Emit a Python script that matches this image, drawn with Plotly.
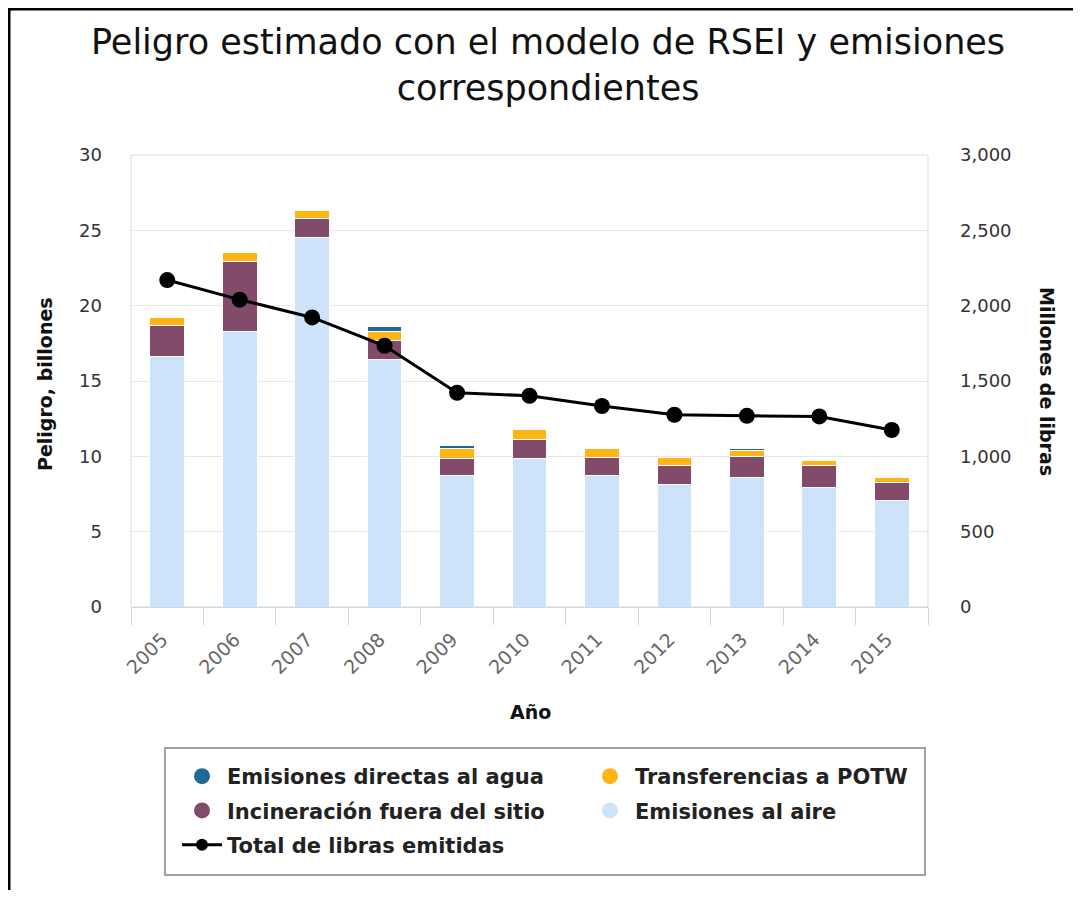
import plotly.graph_objects as go

years = ["2005", "2006", "2007", "2008", "2009", "2010", "2011", "2012", "2013", "2014", "2015"]
emisiones_aire = [16.6, 18.3, 24.5, 16.4, 8.7, 9.85, 8.7, 8.15, 8.6, 7.9, 7.1]
incineracion = [2.1, 4.6, 1.3, 1.3, 1.15, 1.25, 1.25, 1.25, 1.4, 1.5, 1.15]
transferencias_potw = [0.5, 0.6, 0.5, 0.6, 0.65, 0.7, 0.6, 0.5, 0.4, 0.35, 0.35]
emisiones_agua = [0.0, 0.0, 0.0, 0.3, 0.25, 0.0, 0.0, 0.0, 0.15, 0.0, 0.0]
total_libras = [2170, 2040, 1922, 1734, 1422, 1402, 1334, 1276, 1269, 1265, 1175]

left_ticks = [0, 5, 10, 15, 20, 25, 30]
right_ticks = [0, 500, 1000, 1500, 2000, 2500, 3000]

C_AGUA = "#1d6a96"
C_POTW = "#fdb515"
C_INC = "#834b6a"
C_AIRE = "#cce3fa"

# page is rendered with an 8px body margin; work in page coordinates
OFF = 8
W, H = 1081 - OFF, 898 - 2 * OFF
PL, PT, PR, PB = 131, 155, 928, 607          # plot area in page px
L, T = PL - OFF, PT - OFF
R = W - (PR - OFF)
B = H - (PB - OFF)
PW, PH = PR - PL, PB - PT


def px(xp):
    return (xp - PL) / PW


def py(yp):
    return (PB - yp) / PH


FONT = "DejaVu Sans"

fig = go.Figure()

bar_series = [
    ("Emisiones al aire", emisiones_aire, C_AIRE),
    ("Incineración fuera del sitio", incineracion, C_INC),
    ("Transferencias a POTW", transferencias_potw, C_POTW),
    ("Emisiones directas al agua", emisiones_agua, C_AGUA),
]
for name, vals, col in bar_series:
    fig.add_trace(go.Bar(
        x=years, y=vals, name=name, marker=dict(color=col, line=dict(color="white", width=1)),
        width=0.48, showlegend=False, yaxis="y",
    ))

fig.add_trace(go.Scatter(
    x=years, y=total_libras, name="Total de libras emitidas", mode="lines+markers",
    line=dict(color="black", width=3), marker=dict(color="black", size=16),
    yaxis="y2", showlegend=False,
))

# legend entries (circle symbols as in the original)
legend_items = [
    ("Emisiones directas al agua", C_AGUA, "legend", "markers"),
    ("Incineración fuera del sitio", C_INC, "legend", "markers"),
    ("Total de libras emitidas", "black", "legend", "lines+markers"),
    ("Transferencias a POTW", C_POTW, "legend2", "markers"),
    ("Emisiones al aire", C_AIRE, "legend2", "markers"),
]
for i, (name, col, lg, mode) in enumerate(legend_items):
    fig.add_trace(go.Scatter(
        x=[None], y=[None], name=name, mode=mode, legend=lg, legendgroup="g%d" % i,
        marker=dict(color=col, size=16 if mode == "markers" else 12),
        line=dict(color=col, width=3), showlegend=True, hoverinfo="skip",
    ))

legend_font = dict(family=FONT, size=21, color="#222", weight="bold")
common_legend = dict(orientation="v", font=legend_font, bgcolor="rgba(0,0,0,0)",
                     borderwidth=0, itemwidth=40, tracegroupgap=4,
                     xanchor="left", yanchor="top", itemclick=False)

shapes = [
    # plot border
    dict(type="rect", xref="paper", yref="paper", x0=0, x1=1, y0=0, y1=1,
         line=dict(color="#dcdcdc", width=1), layer="below"),
    # legend box
    dict(type="rect", xref="paper", yref="paper", x0=px(165), x1=px(925), y0=py(875), y1=py(748),
         line=dict(color="#a0a0a0", width=2)),
    # image frame (left & top)
    dict(type="line", xref="paper", yref="paper", x0=px(OFF + 1), x1=px(OFF + 1), y0=py(898), y1=py(OFF + 1),
         line=dict(color="black", width=3)),
    dict(type="line", xref="paper", yref="paper", x0=px(OFF), x1=px(1081), y0=py(OFF + 1), y1=py(OFF + 1),
         line=dict(color="black", width=3)),
]

annotations = [
    dict(text="Peligro estimado con el modelo de RSEI y emisiones<br>correspondientes",
         xref="paper", yref="paper", x=px(548), y=py(65), xanchor="center", yanchor="middle",
         showarrow=False, font=dict(family=FONT, size=35, color="#111")),
    dict(text="<b>Peligro, billones</b>", xref="paper", yref="paper", x=px(45), y=py(384),
         textangle=-90, showarrow=False, xanchor="center", yanchor="middle",
         font=dict(family=FONT, size=19, color="#111")),
    dict(text="<b>Millones de libras</b>", xref="paper", yref="paper", x=px(1047), y=py(381),
         textangle=90, showarrow=False, xanchor="center", yanchor="middle",
         font=dict(family=FONT, size=19, color="#111")),
    dict(text="<b>Año</b>", xref="paper", yref="paper", x=px(530), y=py(712),
         showarrow=False, xanchor="center", yanchor="middle",
         font=dict(family=FONT, size=19, color="#111")),
]

fig.update_layout(
    width=W, height=H,
    margin=dict(l=L, r=R, t=T, b=B, autoexpand=False),
    paper_bgcolor="white", plot_bgcolor="white",
    barmode="stack", bargap=0.52,
    font=dict(family=FONT, color="#333"),
    xaxis=dict(type="category", categoryorder="array", categoryarray=years,
               range=[-0.5, len(years) - 0.5],
               showline=True, linecolor="#ccd6eb", linewidth=1,
               ticks="outside", ticklen=17, tickcolor="#ccd6eb", tickson="boundaries",
               tickangle=-45, ticklabelshift=-5, ticklabelstandoff=13,
               tickfont=dict(family=FONT, size=19, color="#666"),
               showgrid=False, zeroline=False),
    yaxis=dict(range=[0, 30], tickvals=left_ticks, showgrid=True, gridcolor="#e6e6e6",
               zeroline=False, showline=False, ticks="", ticklabelstandoff=28,
               tickfont=dict(family=FONT, size=18, color="#333")),
    yaxis2=dict(range=[0, 3000], tickvals=right_ticks, overlaying="y", side="right",
                tickformat=",", showgrid=False, zeroline=False, showline=False, ticks="",
                ticklabelstandoff=31, tickfont=dict(family=FONT, size=18, color="#333")),
    legend=dict(x=px(177), y=py(756), **common_legend),
    legend2=dict(x=px(585), y=py(756), **common_legend),
    shapes=shapes,
    annotations=annotations,
    showlegend=True,
)

fig.write_html("out.html")
